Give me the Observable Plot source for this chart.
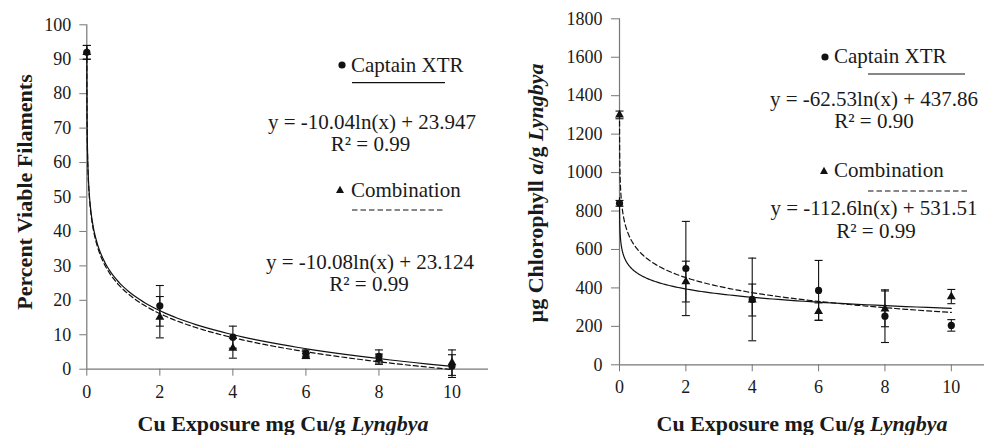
<!DOCTYPE html>
<html><head><meta charset="utf-8">
<script src="https://cdn.jsdelivr.net/npm/d3@7"></script>
<script src="https://cdn.jsdelivr.net/npm/@observablehq/plot@0.6"></script>
<style>
body{margin:0;background:#fff;}
#wrap{display:flex;width:988px;height:435px;overflow:hidden;}
#wrap svg{display:block;}
#wrap svg, #wrap svg text{font-family:"Liberation Serif","Times New Roman",serif !important;}
</style></head><body><div id="wrap"></div>
<script>
// ---- data ----
const copper = [0, 2, 4, 6, 8, 10];
const viableTicks = [0, 10, 20, 30, 40, 50, 60, 70, 80, 90, 100];
const chlTicks = [0, 200, 400, 600, 800, 1000, 1200, 1400, 1600, 1800];
const xTicks = [0, 2, 4, 6, 8, 10];

const captainViable    = [92, 18.4, 9.3, 4.7, 3.7, 0.9];
const captainViableErr = [2, 5.9, 3.2, 0.9, 1.9, 3.3];
const comboViable      = [92, 15.1, 6.1, 3.8, 2.9, 1.9];
const comboViableErr   = [2, 6.0, 2.9, 0.7, 1.5, 3.7];

const captainChl    = [840, 501, 340, 387, 253, 205];
const captainChlErr = [15, 245, 215, 156, 137, 30];
const comboChl      = [1300, 433, 337, 277, 291, 355];
const comboChlErr   = [20, 106, 83, 45, 93, 37];

// trendline coefficients y = a ln(x) + b, as printed on the chart
const viableFitA = [-10.04, -10.08];
const viableFitB = [23.947, 23.124];
const chlFitA = [-62.53, -112.6];
const chlFitB = [437.86, 531.51];
const seriesNames = ["Captain XTR", "Combination"];

// ---- helpers ----
const FONT = "Liberation Serif, Times New Roman, serif";
const AXIS = "#777";
const capSymbol = {draw(ctx) { ctx.moveTo(-4, 0); ctx.lineTo(4, 0); }};

function rows(ys, errs, s) {
  return copper.map((x, i) => ({x, y: ys[i], err: errs[i], s}));
}
function curve(a, b, s) {
  return d3.range(0, 1.00001, 0.004).map(t => {
    const x = 0.001 * Math.pow(10000, t);
    return {x, y: a * Math.log(x) + b, s};
  });
}

function annot(spec) {
  return () => {
    const g = d3.create("svg:g").attr("font-family", FONT).attr("fill", "#1a1a1a");
    const fs = 21;
    g.append("circle").attr("cx", spec.dot[0]).attr("cy", spec.dot[1]).attr("r", 3.6).attr("fill", "#111");
    const [tx, ty] = spec.tri;
    g.append("path").attr("d", `M${tx},${ty - 4.2}L${tx + 4},${ty + 3}L${tx - 4},${ty + 3}Z`).attr("fill", "#111");
    const t = (x, y, str, anchor) => g.append("text").attr("x", x).attr("y", y)
      .attr("font-size", fs).attr("text-anchor", anchor).text(str);
    t(spec.nameX, spec.name1Y, seriesNames[0], "start");
    t(spec.nameX, spec.name2Y, seriesNames[1], "start");
    g.append("line").attr("x1", spec.l1[0]).attr("x2", spec.l1[1]).attr("y1", spec.l1[2]).attr("y2", spec.l1[2])
      .attr("stroke", "#111").attr("stroke-width", 1.2);
    g.append("line").attr("x1", spec.l2[0]).attr("x2", spec.l2[1]).attr("y1", spec.l2[2]).attr("y2", spec.l2[2])
      .attr("stroke", "#111").attr("stroke-width", 1.2).attr("stroke-dasharray", "5.5,3");
    spec.eq.forEach(e => t(e[0], e[1], e[2], "middle"));
    const xt = g.append("text").attr("x", spec.xTitle[0]).attr("y", spec.xTitle[1])
      .attr("font-size", 22).attr("font-weight", "bold").attr("text-anchor", "middle");
    xt.append("tspan").text("Cu Exposure mg Cu/g ");
    xt.append("tspan").attr("font-style", "italic").text("Lyngbya");
    const yt = g.append("text").attr("transform", `translate(${spec.yTitle[0]},${spec.yTitle[1]}) rotate(-90)`)
      .attr("font-size", 22).attr("font-weight", "bold").attr("text-anchor", "middle");
    spec.yParts.forEach(p => yt.append("tspan").attr("font-style", p[1] ? "italic" : "normal").text(p[0]));
    return g.node();
  };
}

function panel(o) {
  const pts = [...rows(o.c, o.ce, 0), ...rows(o.m, o.me, 1)];
  return Plot.plot({
    width: 494, height: 435,
    marginLeft: o.ml, marginRight: o.mr, marginTop: o.mt, marginBottom: o.mb,
    style: {fontFamily: FONT, fontSize: "18px", background: "#fff", color: "#1a1a1a"},
    x: {domain: [0, 11]},
    y: {domain: o.ydom},
    marks: [
      Plot.axisY({ticks: o.yticks, tickFormat: d => String(d), tickSize: o.ts, tickPadding: o.tp, fontSize: 18, label: null, stroke: AXIS, fill: "#1a1a1a"}),
      Plot.axisX({ticks: xTicks, tickFormat: d => String(d), tickSize: 7, tickPadding: 8.6, fontSize: 18, label: null, stroke: AXIS, fill: "#1a1a1a"}),
      Plot.ruleX([0], {stroke: AXIS, strokeWidth: 1.2}),
      Plot.ruleY([0], {stroke: AXIS, strokeWidth: 1.2}),
      Plot.line(curve(o.fa[0], o.fb[0], 0), {x: "x", y: "y", stroke: "#111", strokeWidth: 1.2}),
      Plot.line(curve(o.fa[1], o.fb[1], 1), {x: "x", y: "y", stroke: "#111", strokeWidth: 1.2, strokeDasharray: "5,3"}),
      Plot.ruleX(pts, {x: "x", y1: d => d.y - d.err, y2: d => d.y + d.err, stroke: "#111", strokeWidth: 1.1}),
      Plot.dot(pts, {x: "x", y: d => d.y + d.err, symbol: capSymbol, stroke: "#111", strokeWidth: 1.1, fill: "none"}),
      Plot.dot(pts, {x: "x", y: d => d.y - d.err, symbol: capSymbol, stroke: "#111", strokeWidth: 1.1, fill: "none"}),
      Plot.dot(pts.filter(d => d.s === 1), {x: "x", y: "y", symbol: "triangle", r: 3.3, fill: "#111", stroke: "none"}),
      Plot.dot(pts.filter(d => d.s === 0), {x: "x", y: "y", symbol: "circle", r: 3.6, fill: "#111", stroke: "none"}),
      annot(o.ann)
    ]
  });
}

const left = panel({
  c: captainViable, ce: captainViableErr, m: comboViable, me: comboViableErr,
  fa: viableFitA, fb: viableFitB, ydom: [0, 100], yticks: viableTicks,
  ml: 86.3, mr: 6, mt: 24.3, mb: 66.3, ts: 7, tp: 8.5,
  ann: {
    dot: [342, 65], tri: [340, 190], nameX: 351, name1Y: 71.7, name2Y: 196.7,
    l1: [352, 445, 82.7], l2: [352, 445, 210],
    eq: [[372, 128.8, "y = -10.04ln(x) + 23.947"], [370.5, 151.2, "R² = 0.99"],
         [370, 268.8, "y = -10.08ln(x) + 23.124"], [369, 291.2, "R² = 0.99"]],
    xTitle: [283, 430.5], yTitle: [31.5, 192],
    yParts: [["Percent Viable Filaments", false]]
  }
});

const right = panel({
  c: captainChl, ce: captainChlErr, m: comboChl, me: comboChlErr,
  fa: chlFitA, fb: chlFitB, ydom: [0, 1800], yticks: chlTicks,
  ml: 125, mr: 4, mt: 18.3, mb: 70.7, ts: 8, tp: 9,
  ann: {
    dot: [331, 57], tri: [330, 171], nameX: 340, name1Y: 63.3, name2Y: 176.7,
    l1: [374, 471, 74], l2: [374, 473, 191],
    eq: [[380, 106, "y = -62.53ln(x) + 437.86"], [380, 128.3, "R² = 0.90"],
         [380, 215, "y = -112.6ln(x) + 531.51"], [382, 238.3, "R² = 0.99"]],
    xTitle: [308, 430.5], yTitle: [49, 193],
    yParts: [["µg Chlorophyll ", false], ["a", true], ["/g ", false], ["Lyngbya", true]]
  }
});

document.getElementById("wrap").append(left, right);
</script></body></html>
